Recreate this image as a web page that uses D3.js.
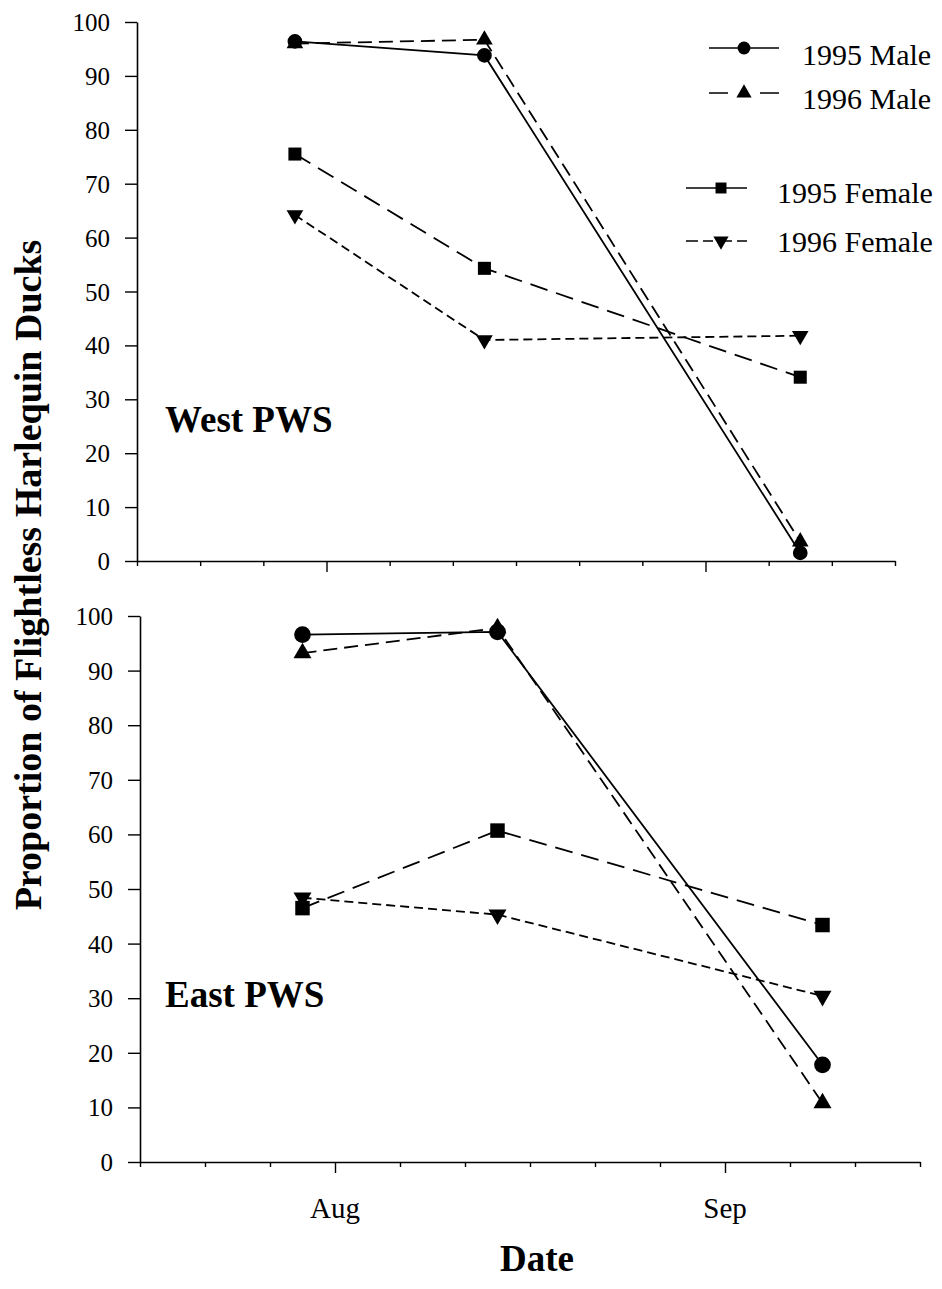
<!DOCTYPE html>
<html>
<head>
<meta charset="utf-8">
<script src="https://cdn.jsdelivr.net/npm/d3@7"></script>
<style>
  html, body { margin: 0; padding: 0; background: #fff; }
  svg { display: block; }
  text { font-family: "Liberation Serif", "Times New Roman", serif; fill: #000; }
</style>
</head>
<body>
<svg id="chart" width="942" height="1289" font-family="Liberation Serif, Times New Roman, serif"></svg>
<script>
// ---- data ----
// x positions are in axis-tick units (ticks 0..12; "Aug" at 3, "Sep" at 9)
const sampleX = [2.5, 5.5, 10.5];
const xTickValues = d3.range(0, 13);
const xMajorTicks = [3, 9];
const xMonthLabels = ["Aug", "Sep"];
const yTickValues = [0, 10, 20, 30, 40, 50, 60, 70, 80, 90, 100];

const seriesNames = ["1995 Male", "1996 Male", "1995 Female", "1996 Female"];

const west1995Male   = [96.4, 93.8, 1.5];
const west1996Male   = [96.0, 96.7, 3.6];
const west1995Female = [75.5, 54.3, 34.1];
const west1996Female = [64.2, 41.0, 41.8];

const east1995Male   = [96.6, 97.1, 17.8];
const east1996Male   = [93.2, 97.8, 10.8];
const east1995Female = [46.5, 60.7, 43.4];
const east1996Female = [48.4, 45.3, 30.4];

const panelTitles = ["West PWS", "East PWS"];
const xAxisTitle = "Date";
const yAxisTitle = "Proportion of Flightless Harlequin Ducks";

// ---- styling ----
const FONT = "'Liberation Serif', 'Times New Roman', serif";
const seriesStyle = [
  { symbol: d3.symbolCircle,   rotate: 0,   dash: null,   legendDash: null },
  { symbol: d3.symbolTriangle, rotate: 0,   dash: "14,7", legendDash: "19,32,19" },
  { symbol: d3.symbolSquare,   rotate: 0,   dash: "18,9", legendDash: null },
  { symbol: d3.symbolTriangle, rotate: 180, dash: "9,5",  legendDash: "12,5,10,9,10,5,12" }
];

const svg = d3.select("#chart");
svg.append("rect").attr("width", 942).attr("height", 1289).attr("fill", "#fff");

const panels = [
  { data: [west1995Male, west1996Male, west1995Female, west1996Female],
    x0: 137, x1: 895, yTop: 22, yBot: 561, title: panelTitles[0], titleY: 432, showLabels: false,
    symSize: [170, 120, 170, 120] },
  { data: [east1995Male, east1996Male, east1995Female, east1996Female],
    x0: 140, x1: 920, yTop: 616, yBot: 1162, title: panelTitles[1], titleY: 1007, showLabels: true,
    symSize: [220, 140, 210, 140] }
];

panels.forEach(p => {
  const x = d3.scaleLinear().domain([0, 12]).range([p.x0, p.x1]);
  const y = d3.scaleLinear().domain([0, 100]).range([p.yBot, p.yTop]);
  const g = svg.append("g");

  // y axis
  const ya = g.append("g").attr("transform", `translate(${p.x0},0)`)
    .call(d3.axisLeft(y).tickValues(yTickValues).tickSize(12).tickSizeOuter(0).tickPadding(15));
  ya.attr("font-family", FONT).attr("font-size", 25);
  ya.select(".domain").attr("stroke", "#000").attr("stroke-width", 1.6);
  ya.selectAll(".tick line").attr("stroke", "#000").attr("stroke-width", 1.4);
  ya.selectAll(".tick text").attr("font-family", FONT).style("font-family", FONT)
    .style("font-size", "25px").attr("dy", "0.34em");

  // x axis
  const xa = g.append("g").attr("transform", `translate(0,${p.yBot})`)
    .call(d3.axisBottom(x).tickValues(xTickValues).tickSize(5).tickSizeOuter(0).tickFormat(""));
  xa.select(".domain").attr("stroke", "#000").attr("stroke-width", 1.6);
  xa.selectAll(".tick line").attr("stroke", "#000").attr("stroke-width", 1.4)
    .attr("y2", d => xMajorTicks.includes(d) ? 11 : 5);

  if (p.showLabels) {
    g.selectAll(".monthLabel").data(xMajorTicks).join("text")
      .attr("x", d => x(d)).attr("y", p.yBot + 56)
      .attr("text-anchor", "middle").style("font-family", FONT).style("font-size", "29px")
      .text((d, i) => xMonthLabels[i]);
  }

  // series lines
  const line = d3.line().x((d, i) => x(sampleX[i])).y(d => y(d));
  p.data.forEach((vals, si) => {
    const st = seriesStyle[si];
    g.append("path").datum(vals)
      .attr("d", line).attr("fill", "none").attr("stroke", "#000")
      .attr("stroke-width", 1.8)
      .attr("stroke-dasharray", st.dash);
  });
  p.data.forEach((vals, si) => {
    const st = seriesStyle[si];
    g.selectAll(null).data(vals).join("path")
      .attr("d", d3.symbol().type(st.symbol).size(p.symSize[si]))
      .attr("transform", (d, i) => `translate(${x(sampleX[i])},${y(d)}) rotate(${st.rotate})`)
      .attr("fill", "#000");
  });

  g.append("text").attr("x", 165).attr("y", p.titleY)
    .style("font-family", FONT).style("font-size", "37px").style("font-weight", "bold").text(p.title);
});

// legend
const legendItems = [
  { x0: 709, x1: 779, mx: 744, ly: 48,  tx: 802, ty: 65 },
  { x0: 709, x1: 779, mx: 744, ly: 93,  tx: 802, ty: 109 },
  { x0: 686, x1: 747, mx: 721, ly: 188, tx: 777, ty: 203 },
  { x0: 686, x1: 747, mx: 721, ly: 241, tx: 777, ty: 252 }
];
const legendSizes = [130, 100, 120, 100];
const lg = svg.append("g");
legendItems.forEach((it, i) => {
  const st = seriesStyle[i];
  lg.append("line").attr("x1", it.x0).attr("x2", it.x1).attr("y1", it.ly).attr("y2", it.ly)
    .attr("stroke", "#000").attr("stroke-width", 1.6).attr("stroke-dasharray", st.legendDash);
  lg.append("path").attr("d", d3.symbol().type(st.symbol).size(legendSizes[i]))
    .attr("transform", `translate(${it.mx},${it.ly}) rotate(${st.rotate})`).attr("fill", "#000");
  lg.append("text").attr("x", it.tx).attr("y", it.ty)
    .style("font-family", FONT).style("font-size", "30px").text(seriesNames[i]);
});

// axis titles
svg.append("text").attr("x", 537).attr("y", 1271).attr("text-anchor", "middle")
  .style("font-family", FONT).style("font-size", "37px").style("font-weight", "bold").text(xAxisTitle);
svg.append("text").attr("transform", "translate(41,575) rotate(-90)").attr("text-anchor", "middle")
  .style("font-family", FONT).style("font-size", "38px").style("font-weight", "bold").text(yAxisTitle);
</script>
</body>
</html>
